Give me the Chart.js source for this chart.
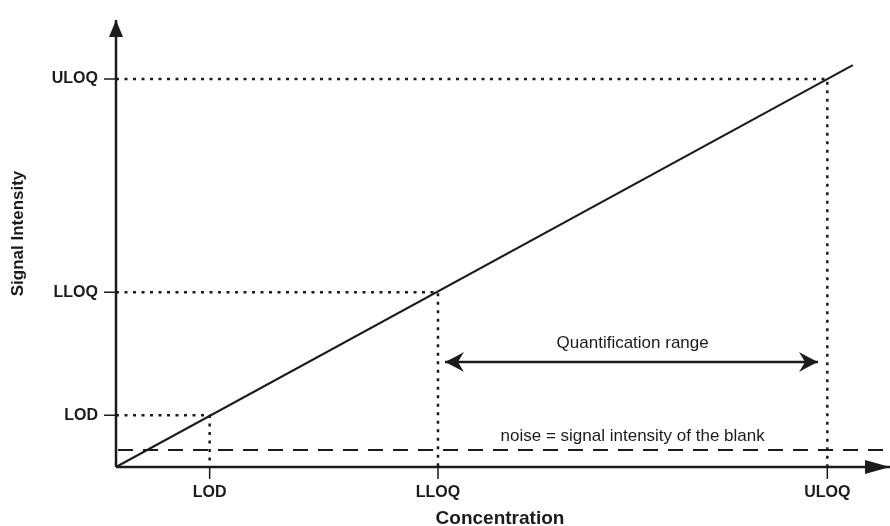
<!DOCTYPE html>
<html>
<head>
<meta charset="utf-8">
<script src="https://cdn.jsdelivr.net/npm/chart.js@4.4.1/dist/chart.umd.min.js"></script>
<style>
  html, body { margin: 0; padding: 0; background: #fff; }
  canvas { display: block; }
</style>
</head>
<body>
<canvas id="calib" width="890" height="526"></canvas>
<script>
// values (arbitrary units, axes run 0..100)
const levelLabels = ["LOD", "LLOQ", "ULOQ"];
const levelConc = [12.1, 41.6, 91.9];
const levelSignal = [11.6, 39.1, 86.8];
const calibConc = [0, 95.2];
const calibSignal = [0, 89.9];
const noiseSignal = 3.8;
const rangeConc = [42.5, 90.7];
const rangeSignal = 23.5;
const axisMax = 100;

const ink = "#1b1b1b";

function pts(xs, ys) {
  return xs.map((x, i) => ({ x: x, y: ys[i] }));
}

const datasets = [];

// dotted guides: from the y axis to the line, then down to the x axis
levelLabels.forEach((name, i) => {
  datasets.push({
    label: name + " guide",
    data: pts([0, levelConc[i], levelConc[i]], [levelSignal[i], levelSignal[i], 0]),
    borderColor: ink,
    borderWidth: 2.5,
    borderDash: [3, 5.5],
    order: 5,
  });
});

datasets.push({
  label: "noise",
  data: pts([0, axisMax], [noiseSignal, noiseSignal]),
  borderColor: ink,
  borderWidth: 2,
  borderDash: [15, 10],
  borderDashOffset: -2,
  order: 4,
});

datasets.push({
  label: "calibration",
  data: pts(calibConc, calibSignal),
  borderColor: ink,
  borderWidth: 2,
  order: 3,
});

datasets.push({
  label: "quantification range",
  data: pts(rangeConc, [rangeSignal, rangeSignal]),
  borderColor: ink,
  borderWidth: 2.5,
  order: 2,
  arrowStart: { len: 19, half: 10, notch: 6, curved: true },
  arrowEnd: { len: 19, half: 10, notch: 6, curved: true },
});

// axes
datasets.push({
  label: "x axis",
  data: pts([0, axisMax], [0, 0]),
  borderColor: ink,
  borderWidth: 2.5,
  order: 1,
  arrowEnd: { len: 25, half: 7 },
});
datasets.push({
  label: "y axis",
  data: pts([0, 0], [0, axisMax]),
  borderColor: ink,
  borderWidth: 2.5,
  order: 1,
  arrowEnd: { len: 17, half: 7 },
});

function drawHead(ctx, tip, from, head) {
  const ang = Math.atan2(tip.y - from.y, tip.x - from.x);
  ctx.save();
  ctx.translate(tip.x, tip.y);
  ctx.rotate(ang);
  ctx.fillStyle = ink;
  ctx.beginPath();
  ctx.moveTo(0, 0);
  if (head.curved) {
    ctx.quadraticCurveTo(-head.len * 0.55, -head.half * 0.5, -head.len, -head.half);
    ctx.lineTo(-head.len + head.notch, 0);
    ctx.lineTo(-head.len, head.half);
    ctx.quadraticCurveTo(-head.len * 0.55, head.half * 0.5, 0, 0);
  } else {
    ctx.lineTo(-head.len, -head.half);
    ctx.lineTo(-head.len, head.half);
  }
  ctx.closePath();
  ctx.fill();
  ctx.restore();
}

const arrowPlugin = {
  id: "arrows",
  afterDatasetsDraw(chart) {
    const ctx = chart.ctx;
    chart.data.datasets.forEach((ds, i) => {
      const p = chart.getDatasetMeta(i).data;
      if (p.length < 2) return;
      if (ds.arrowEnd) drawHead(ctx, p[p.length - 1], p[p.length - 2], ds.arrowEnd);
      if (ds.arrowStart) drawHead(ctx, p[0], p[1], ds.arrowStart);
    });
  },
};

const labelPlugin = {
  id: "labels",
  afterDraw(chart) {
    const ctx = chart.ctx;
    const xs = chart.scales.x;
    const ys = chart.scales.y;
    const area = chart.chartArea;
    ctx.save();
    ctx.fillStyle = ink;
    ctx.strokeStyle = ink;
    ctx.lineWidth = 1.5;

    // tick marks and level labels
    ctx.font = "bold 16px 'Liberation Sans', Arial, sans-serif";
    levelLabels.forEach((name, i) => {
      const px = xs.getPixelForValue(levelConc[i]);
      const py = ys.getPixelForValue(levelSignal[i]);
      ctx.beginPath();
      ctx.moveTo(px, area.bottom);
      ctx.lineTo(px, area.bottom + 12);
      ctx.moveTo(area.left - 12, py);
      ctx.lineTo(area.left, py);
      ctx.stroke();
      ctx.textAlign = "center";
      ctx.textBaseline = "middle";
      ctx.fillText(name, px, area.bottom + 26);
      ctx.textAlign = "right";
      ctx.fillText(name, area.left - 18, py);
    });

    // axis titles
    ctx.font = "bold 19px 'Liberation Sans', Arial, sans-serif";
    ctx.textAlign = "center";
    ctx.textBaseline = "middle";
    ctx.fillText("Concentration", (area.left + area.right) / 2 - 3, area.bottom + 52);
    ctx.save();
    ctx.font = "bold 17px 'Liberation Sans', Arial, sans-serif";
    ctx.translate(18, (area.top + area.bottom) / 2 - 10);
    ctx.rotate(-Math.PI / 2);
    ctx.fillText("Signal Intensity", 0, 0);
    ctx.restore();

    // annotations
    const midX = (xs.getPixelForValue(levelConc[1]) + xs.getPixelForValue(levelConc[2])) / 2;
    ctx.font = "17px 'Liberation Sans', Arial, sans-serif";
    ctx.textBaseline = "alphabetic";
    ctx.fillText("Quantification range", midX, ys.getPixelForValue(rangeSignal) - 14);
    ctx.fillText("noise = signal intensity of the blank", midX, ys.getPixelForValue(noiseSignal) - 9);
    ctx.restore();
  },
};

new Chart(document.getElementById("calib"), {
  type: "scatter",
  data: { datasets: datasets },
  options: {
    responsive: false,
    animation: false,
    devicePixelRatio: 1,
    showLine: true,
    layout: { padding: { left: 116, top: 20, right: 0, bottom: 59 } },
    elements: {
      point: { radius: 0, hoverRadius: 0 },
      line: { tension: 0, borderCapStyle: "butt" },
    },
    datasets: { scatter: { clip: false } },
    plugins: {
      legend: { display: false },
      tooltip: { enabled: false },
    },
    scales: {
      x: { type: "linear", min: 0, max: axisMax, display: false },
      y: { type: "linear", min: 0, max: axisMax, display: false },
    },
  },
  plugins: [arrowPlugin, labelPlugin],
});
</script>
</body>
</html>
